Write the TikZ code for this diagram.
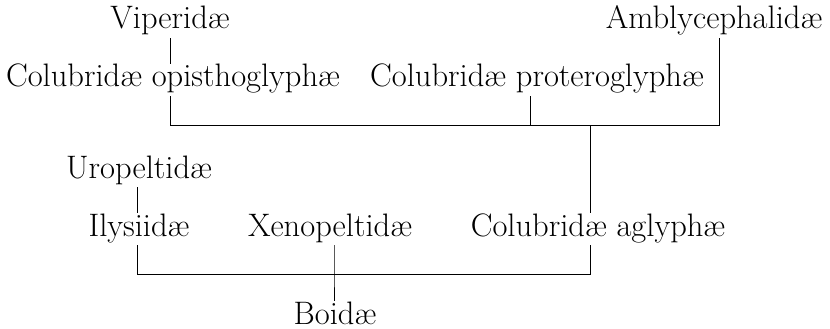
\documentclass[tikz,border=0pt]{standalone}
\usepackage{tikz}

\begin{document}
\begin{tikzpicture}[x=1pt, y=-1pt, line width=0.9pt,
    taxon/.style={anchor=base, inner sep=1pt, text height=22pt, text depth=8pt,
        font=\fontsize{32.5}{34}\selectfont}]
        \useasboundingbox (0,0) rectangle (830,329);
        % upper group
        \node[taxon] (vip) at (170,29) {Viperidæ};
        \node[taxon] (opi) at (173,87) {Colubridæ opisthoglyphæ};
        \node[taxon] (pro) at (537,87) {Colubridæ proteroglyphæ};
        \node[taxon] (amb) at (714,29) {Amblycephalidæ};
        % lower group
        \node[taxon] (uro) at (139,178) {Uropeltidæ};
        \node[taxon] (ily) at (139,236) {Ilysiidæ};
        \node[taxon] (xen) at (330,236) {Xenopeltidæ};
        \node[taxon] (agl) at (598,236) {Colubridæ aglyphæ};
        \node[taxon, text depth=1pt] (boi) at (335,324) {Boidæ};
        % junctions
        \coordinate (ta) at (170,125);
        \coordinate (tb) at (530,125);
        \coordinate (tc) at (719,125);
        \coordinate (td) at (590,125);
        \coordinate (ba) at (137,274);
        \coordinate (bb) at (334,274);
        \coordinate (bc) at (590,274);
        \draw (vip.south -| ta) -- (opi.north -| ta);
        \draw (opi.south -| ta) -- (ta) -- (tc) -- (amb.south -| tc);
        \draw (pro.south -| tb) -- (tb);
        \draw (td) -- (agl.north -| td);
        \draw (uro.south -| ba) -- (ily.north -| ba);
        \draw (ily.south -| ba) -- (ba) -- (bc) -- (agl.south -| bc);
        \draw (xen.south -| bb) -- (bb) -- (boi.north -| bb);
    \end{tikzpicture}
\end{document}
